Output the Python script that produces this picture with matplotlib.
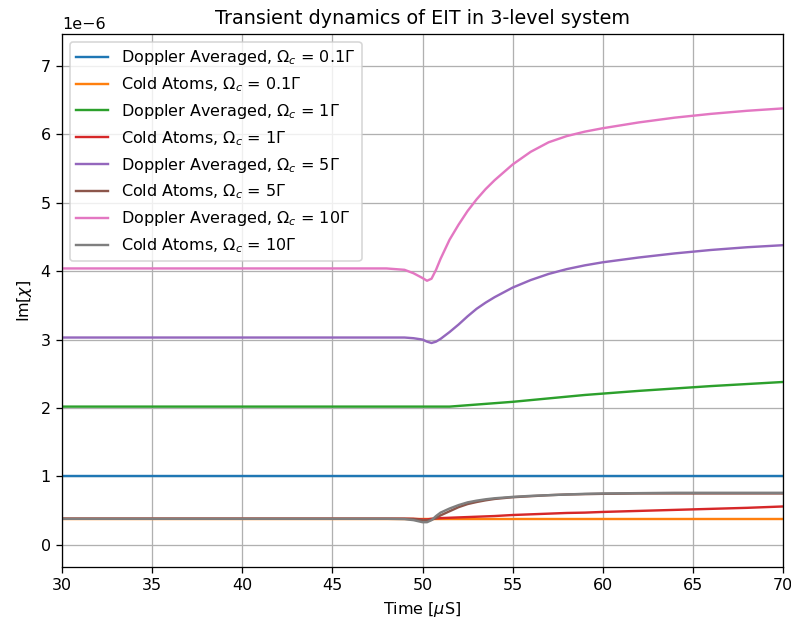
import numpy as np
import matplotlib
matplotlib.use("Agg")
import matplotlib.pyplot as plt

# time axis in microseconds
time_us = [30, 40, 48, 49, 49.5, 50, 50.25, 50.5, 50.75, 51, 51.5, 52, 52.5,
           53, 53.5, 54, 55, 56, 57, 58, 59, 60, 62, 64, 66, 68, 70]

# Im[chi] in units of 1e-6
doppler_01 = [1.01] * len(time_us)
cold_01 = [0.38] * len(time_us)
doppler_1 = [2.02, 2.02, 2.02, 2.02, 2.02, 2.02, 2.02, 2.02, 2.02, 2.02, 2.02,
             2.03, 2.04, 2.05, 2.06, 2.07, 2.09, 2.115, 2.14, 2.165, 2.19,
             2.21, 2.25, 2.285, 2.32, 2.35, 2.38]
cold_1 = [0.38, 0.38, 0.38, 0.38, 0.38, 0.37, 0.37, 0.38, 0.385, 0.39, 0.395,
          0.40, 0.405, 0.41, 0.415, 0.42, 0.435, 0.445, 0.455, 0.465, 0.47,
          0.48, 0.495, 0.51, 0.525, 0.54, 0.56]
doppler_5 = [3.03, 3.03, 3.03, 3.03, 3.02, 3.00, 2.97, 2.95, 2.97, 3.01, 3.11,
             3.22, 3.34, 3.45, 3.54, 3.62, 3.76, 3.87, 3.96, 4.03, 4.085, 4.13,
             4.20, 4.26, 4.31, 4.35, 4.38]
cold_5 = [0.38, 0.38, 0.38, 0.38, 0.375, 0.36, 0.355, 0.365, 0.39, 0.43, 0.49,
          0.55, 0.595, 0.625, 0.65, 0.67, 0.695, 0.71, 0.725, 0.735, 0.74,
          0.745, 0.75, 0.75, 0.75, 0.75, 0.75]
doppler_10 = [4.04, 4.04, 4.04, 4.02, 3.97, 3.90, 3.86, 3.89, 4.02, 4.18, 4.46,
              4.68, 4.88, 5.05, 5.20, 5.33, 5.56, 5.745, 5.885, 5.975, 6.04,
              6.09, 6.175, 6.245, 6.30, 6.345, 6.38]
cold_10 = [0.38, 0.38, 0.38, 0.375, 0.36, 0.33, 0.33, 0.36, 0.42, 0.47, 0.53,
           0.58, 0.62, 0.645, 0.665, 0.68, 0.70, 0.715, 0.725, 0.735, 0.745,
           0.75, 0.755, 0.76, 0.76, 0.76, 0.76]

series = [
    (doppler_01, r'Doppler Averaged, $\Omega_c$ = 0.1$\Gamma$'),
    (cold_01, r'Cold Atoms, $\Omega_c$ = 0.1$\Gamma$'),
    (doppler_1, r'Doppler Averaged, $\Omega_c$ = 1$\Gamma$'),
    (cold_1, r'Cold Atoms, $\Omega_c$ = 1$\Gamma$'),
    (doppler_5, r'Doppler Averaged, $\Omega_c$ = 5$\Gamma$'),
    (cold_5, r'Cold Atoms, $\Omega_c$ = 5$\Gamma$'),
    (doppler_10, r'Doppler Averaged, $\Omega_c$ = 10$\Gamma$'),
    (cold_10, r'Cold Atoms, $\Omega_c$ = 10$\Gamma$'),
]

# render at a slightly higher dpi so text and lines come out a bit larger
dpi = 115
fig = plt.figure(figsize=(791 / dpi, 627 / dpi), dpi=dpi)
ax = fig.add_axes([0.0784, 0.0957, 0.9115, 0.8501])

t = np.array(time_us)
for values, label in series:
    ax.plot(t, np.array(values) * 1e-6, label=label)

ax.set_xlim(30, 70)
ax.set_ylim(-0.325e-6, 7.468e-6)
ax.set_title('Transient dynamics of EIT in 3-level system')
ax.set_xlabel(r'Time [$\mu$S]')
ax.set_ylabel(r'Im[$\chi$]')
ax.grid(True)
ax.legend(loc='upper left')

fig.savefig('out.png', dpi=dpi)
